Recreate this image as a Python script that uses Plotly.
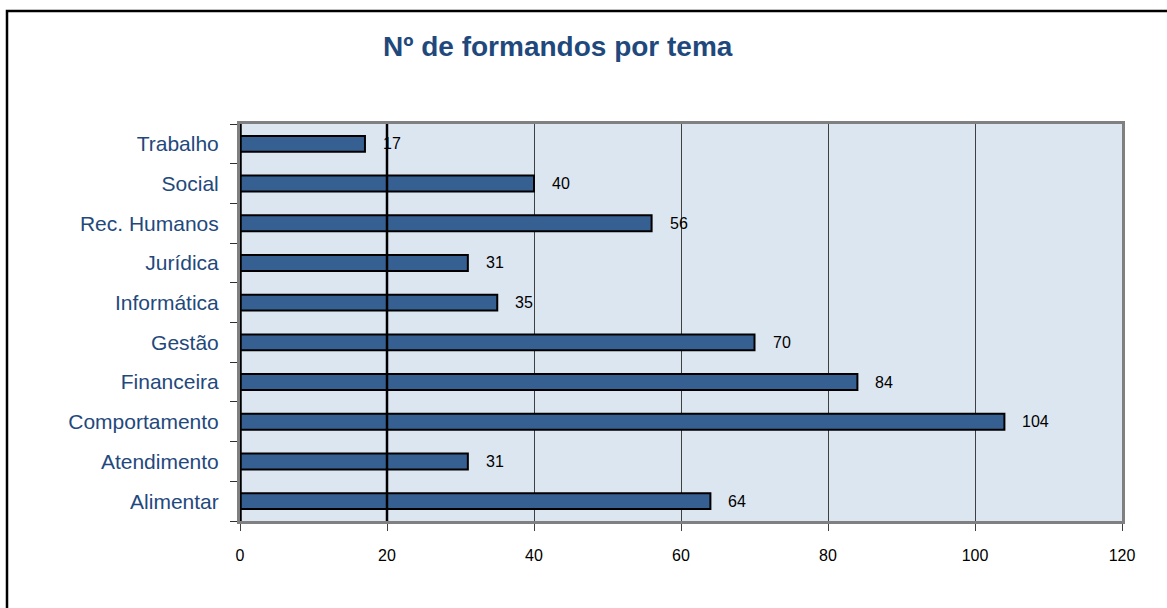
import plotly.graph_objects as go

categories = ["Alimentar", "Atendimento", "Comportamento", "Financeira", "Gestão",
              "Informática", "Jurídica", "Rec. Humanos", "Social", "Trabalho"]
values = [64, 31, 104, 84, 70, 35, 31, 56, 40, 17]
x_ticks = [0, 20, 40, 60, 80, 100, 120]
title_text = "Nº de formandos por tema"

W, H = 1167, 608
L, R, T, B = 240, 1122, 124, 521  # plot area pixel bounds

def px_x(p):
    return (p - L) / (R - L)

def px_y(p):
    return (B - p) / (B - T)

FONT = "Liberation Sans, Arial, sans-serif"
BLUE_TXT = "#1F497D"

fig = go.Figure()
fig.add_trace(go.Bar(
    x=values, y=categories, orientation="h", width=0.4,
    marker=dict(color="#376092", line=dict(color="#000000", width=2)),
    hoverinfo="x+y",
))

annotations = [
    dict(x=v, y=c, xref="x", yref="y", text=str(v), showarrow=False,
         xanchor="left", yanchor="middle", xshift=16,
         font=dict(family=FONT, size=16, color="#000000"))
    for c, v in zip(categories, values)
]
annotations.append(dict(
    x=px_x(558), y=px_y(47), xref="paper", yref="paper", text="<b>" + title_text + "</b>",
    showarrow=False, xanchor="center", yanchor="middle",
    font=dict(family=FONT, size=28, color=BLUE_TXT)))

shapes = [
    # outer chart border
    dict(type="rect", xref="paper", yref="paper",
         x0=px_x(7), x1=px_x(1175), y0=px_y(615), y1=px_y(11),
         line=dict(color="#000000", width=2.5), layer="below"),
    # heavy gridline at 20
    dict(type="line", xref="x", yref="paper", x0=20, x1=20, y0=0, y1=1,
         line=dict(color="#000000", width=2.5), layer="above"),
    # black value-axis line at 0
    dict(type="line", xref="x", yref="paper", x0=0, x1=0, y0=0, y1=1,
         line=dict(color="#000000", width=3.5), layer="above"),
]

fig.update_layout(
    width=W, height=H,
    margin=dict(l=L, r=W - R, t=T, b=H - B),
    paper_bgcolor="#FFFFFF",
    plot_bgcolor="#DCE6F1",
    showlegend=False,
    bargap=0.6,
    annotations=annotations,
    shapes=shapes,
    xaxis=dict(
        range=[0, 120], tickvals=x_ticks, ticktext=[str(t) for t in x_ticks],
        showgrid=True, gridcolor="#404040", gridwidth=1,
        showline=True, linecolor="#808080", linewidth=2.5, mirror=True,
        ticks="outside", ticklen=7, tickcolor="#404040", tickwidth=1,
        ticklabelstandoff=11,
        tickfont=dict(family=FONT, size=16, color="#000000"),
        zeroline=False, fixedrange=True,
    ),
    yaxis=dict(
        categoryorder="array", categoryarray=categories,
        tickson="boundaries", ticks="outside", ticklen=7, tickcolor="#303030", tickwidth=1.2,
        showgrid=False,
        showline=True, linecolor="#808080", linewidth=3, mirror=True,
        ticklabelstandoff=14,
        tickfont=dict(family=FONT, size=21, color=BLUE_TXT),
        zeroline=False, fixedrange=True,
    ),
)

fig.write_html("out.html", config={"displayModeBar": False},
               post_script="document.body.style.margin='0';document.body.style.padding='0';")
